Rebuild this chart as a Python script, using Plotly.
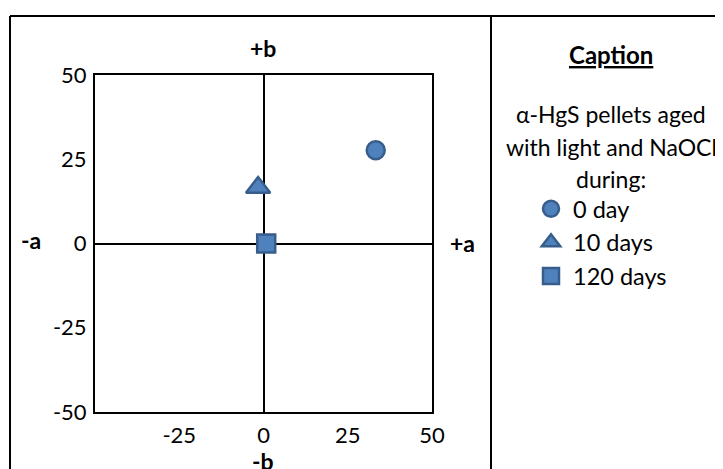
import plotly.graph_objects as go

# data
series_names = ["0 day", "10 days", "120 days"]
a_values = [33.3, -1.6, 0.8]
b_values = [27.7, 16.6, 0.0]
symbols = ["circle", "triangle-up", "square"]
sizes = [18, 21, 18]

x_ticks = [-25, 0, 25, 50]
x_tick_text = ["-25", "0", "25", "50"]
y_ticks = [-50, -25, 0, 25, 50]
y_tick_text = ["-50", "-25", "0", "25", "50"]

W, H = 723, 469
OFF = 8                          # page offset of the figure div
L, R, T, B = 95, 432, 75, 412    # plot area, page pixels

def px(x):
    return (x - L) / (R - L)

def py(y):
    return (B - y) / (B - T)

FONT = "Lato, 'Open Sans', sans-serif"

fig = go.Figure()
for name, a, b, sym, s in zip(series_names, a_values, b_values, symbols, sizes):
    fig.add_trace(go.Scatter(
        x=[a], y=[b], mode="markers", name=name,
        marker=dict(symbol=sym, size=s, color="#4F81BD",
                    line=dict(color="#385D8A", width=2.5)),
    ))

axis_common = dict(range=[-50, 50], showgrid=False, zeroline=True,
                   zerolinecolor="black", zerolinewidth=2,
                   showline=True, linecolor="black", linewidth=2, mirror=True,
                   ticks="", tickfont=dict(size=22, color="black", family=FONT),
                   fixedrange=True)

fig.update_layout(
    width=W, height=H,
    margin=dict(l=L - OFF, r=W - (R - OFF), t=T - OFF, b=H - (B - OFF)),
    paper_bgcolor="white", plot_bgcolor="white",
    font=dict(family=FONT, color="black"),
    xaxis=dict(axis_common, tickvals=x_ticks, ticktext=x_tick_text, ticklabelstandoff=3),
    yaxis=dict(axis_common, tickvals=y_ticks, ticktext=y_tick_text, ticklabelstandoff=2),
    showlegend=True,
    legend=dict(xref="container", yref="container",
                x=(529 - OFF) / W, y=1 - (187 - OFF) / H,
                xanchor="left", yanchor="top", font=dict(size=23.5, family=FONT),
                bgcolor="rgba(0,0,0,0)", itemwidth=34, tracegroupgap=0),
)

# outer frame and divider
frame = dict(type="line", xref="paper", yref="paper",
             line=dict(color="black", width=2), layer="above")
fig.add_shape(frame, x0=px(10), x1=px(10), y0=py(16), y1=py(H + 30))
fig.add_shape(frame, x0=px(10), x1=px(W + 30), y0=py(16), y1=py(16))
fig.add_shape(frame, x0=px(491), x1=px(491), y0=py(16), y1=py(H + 30))

def label(text, x, y, size=23):
    fig.add_annotation(text=text, x=px(x), y=py(y), xref="paper", yref="paper",
                       showarrow=False, xanchor="center", yanchor="middle",
                       font=dict(size=size, color="black", family=FONT))

label("<b>+b</b>", 263, 48)
label("<b>-b</b>", 263, 461)
label("<b>-a</b>", 31, 240)
label("<b>+a</b>", 462, 243)

label("<b><u>Caption</u></b>", 611, 55, 24)
label("α-HgS pellets aged", 611, 114)
label("with light and NaOCl", 611, 147)
label("during:", 611, 179)

fig.write_html("out.html")
